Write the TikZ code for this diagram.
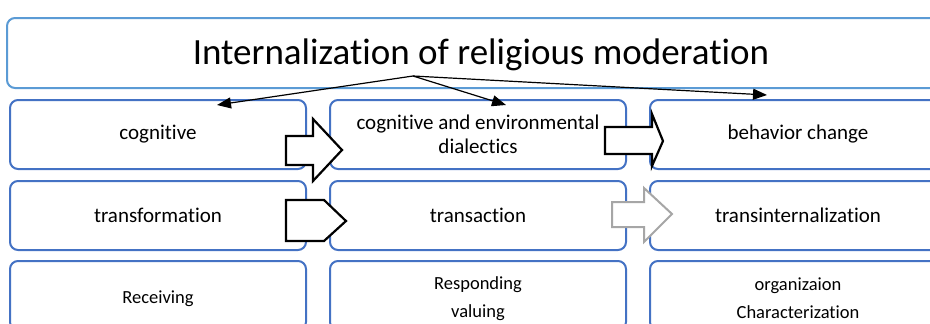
\documentclass[tikz,border=0pt]{standalone}
\usepackage{fontspec}
\setmainfont[Ligatures={NoCommon}]{Carlito}
\usetikzlibrary{arrows.meta}
\definecolor{titleblue}{HTML}{5B9BD5}
\definecolor{boxblue}{HTML}{4472C4}
\definecolor{arrowgray}{HTML}{A6A6A6}
\tikzset{
  box/.style={draw=boxblue, line width=2pt, fill=white, rounded corners=8pt,
    minimum width=296pt, minimum height=69pt, inner sep=0pt, align=center,
    font=\fontsize{21}{24}\selectfont},
  smallbox/.style={box, font=\fontsize{18.5}{28}\selectfont},
  titlebox/.style={draw=titleblue, line width=2pt, fill=white, rounded corners=8pt,
    minimum width=948pt, minimum height=70pt, inner sep=0pt},
  conn/.style={line width=1.2pt, -{Triangle[length=14pt,width=11pt]}},
  blockarrow/.style={draw=black, fill=white, line width=2.2pt, line join=miter},
  grayarrow/.style={draw=arrowgray, fill=white, line width=2pt, line join=miter}
}
\begin{document}
\begin{tikzpicture}[x=1pt,y=-1pt]
\useasboundingbox (0,0) rectangle (930,324);
\begin{scope}
\clip (0,0) rectangle (930,324);
% title
\node[titlebox] (title) at (481,53) {};
\node[anchor=base, font=\fontsize{37}{40}\selectfont] (titletext) at (481,64) {Internalization of religious moderation};
% row 1
\node[box] (cog) at (158,134.5) {cognitive};
\node[box] (dia) at (478,134.5) {cognitive and environmental\\dialectics};
\node[box] (beh) at (798,134.5) {behavior change};
% row 2
\node[box] (tfm) at (158,215.5) {transformation};
\node[box] (tsa) at (478,215.5) {transaction};
\node[box] (tin) at (798,215.5) {transinternalization};
% row 3
\node[box, minimum height=69pt] (rec) at (158,295.5) {};
\node[box] (res) at (478,295.5) {};
\node[box] (org) at (798,295.5) {};
\node[font=\fontsize{18.5}{28}\selectfont] (rect) at (rec.center) [yshift=-3pt] {Receiving};
\node[font=\fontsize{18.5}{28}\selectfont, align=center] (rest) at (res.center) [yshift=-3pt] {Responding\\valuing};
\node[font=\fontsize{18.5}{28}\selectfont, align=center] (orgt) at (org.center) [yshift=-3pt] {organizaion\\Characterization};
% connectors from title
\coordinate (src) at (413,76);
\coordinate (tcog) at (217,105);
\coordinate (tdia) at (506,105);
\coordinate (tbeh) at (767,95);
\draw[conn] (src) -- (tcog);
\draw[conn] (src) -- (tdia);
\draw[conn] (src) -- (tbeh);
% block arrows
\draw[blockarrow] (286,136) -- (313,136) -- (313,119) -- (342,150) -- (313,181) -- (313,165) -- (286,165) -- cycle;
\draw[blockarrow] (605,127) -- (652,127) -- (652,114) -- (663,141) -- (652,166) -- (652,154) -- (605,154) -- cycle;
\draw[blockarrow] (286,200) -- (324,200) -- (346,221) -- (324,241) -- (286,241) -- cycle;
\draw[grayarrow] (612,202) -- (644,202) -- (644,188) -- (672,214) -- (644,242) -- (644,227) -- (612,227) -- cycle;
\end{scope}
\end{tikzpicture}
\end{document}
